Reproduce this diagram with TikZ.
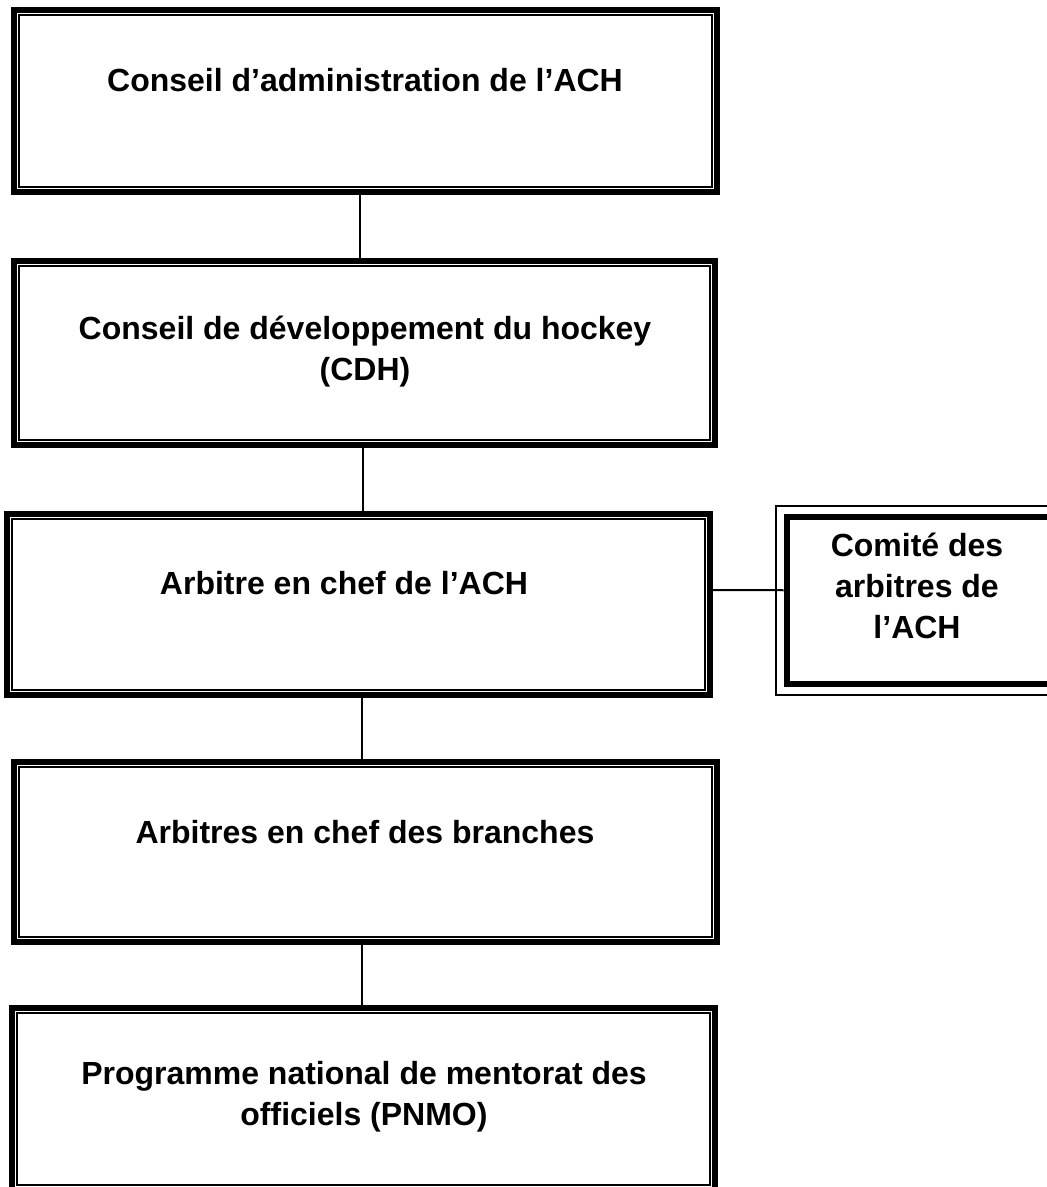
\documentclass[tikz,border=0pt]{standalone}
\usepackage{fontspec}
\setmainfont{Liberation Sans}
\begin{document}
\begin{tikzpicture}[x=0.5pt, y=-0.5pt,
		main node/.style={rectangle, draw, line width=3pt, inner sep=0pt, minimum width=351.5pt},
		thin line/.style={line width=1pt},
		box text/.style={font=\bfseries\fontsize{16}{20.5}\selectfont, align=center}]
		
		\useasboundingbox (0,0) rectangle (1047,1187);
		\clip (0,0) rectangle (1047,1187);
		
		\node[main node, minimum height=91pt] (A) at (365,101.5) {};
		\node[main node, minimum width=350.5pt, minimum height=91.5pt] (B) at (364,353) {};
		\node[main node, minimum height=90.5pt] (C) at (358,604) {};
		\node[main node, minimum height=90pt] (D) at (365,851.5) {};
		\node[main node, minimum height=91pt] (E) at (363,1099) {};
		\node[main node, minimum width=136.75pt, minimum height=83.75pt] (F) at (923.25,600.25) {};
		
		% thin inner lines, thin outer line for the committee
		\foreach \b in {A,B,C,D,E}{
			\draw[thin line] ([xshift=4pt,yshift=-4pt]\b.north west) rectangle ([xshift=-4pt,yshift=4pt]\b.south east);
		}
		\draw[thin line] ([xshift=-4pt,yshift=4pt]F.north west) rectangle ([xshift=4pt,yshift=-4pt]F.south east);
		
		\node[box text] (At) at (365,80) {Conseil d’administration de l’ACH};
		\node[box text] (Bt) at (365,352) {Conseil de développement du hockey\\(CDH)};
		\node[box text] (Ct) at (344,583) {Arbitre en chef de l’ACH};
		\node[box text] (Dt) at (365,832) {Arbitres en chef des branches};
		\node[box text] (Et) at (364,1097) {Programme national de mentorat des\\officiels (PNMO)};
		\node[box text] (Ft) at (917,586) {Comité des\\arbitres de\\l’ACH};
		
		\path[line width=1pt]
		([xshift=-2.5pt]A.south) edge ([xshift=-2pt]B.north)
		([xshift=-0.5pt]B.south) edge ([xshift=2.5pt]C.north)
		([xshift=2pt]C.south) edge ([xshift=-1.5pt]D.north)
		([xshift=-1.5pt]D.south) edge ([xshift=-0.5pt]E.north)
		([yshift=7pt]C.east) edge ([yshift=5pt]F.west);
\end{tikzpicture}
\end{document}
